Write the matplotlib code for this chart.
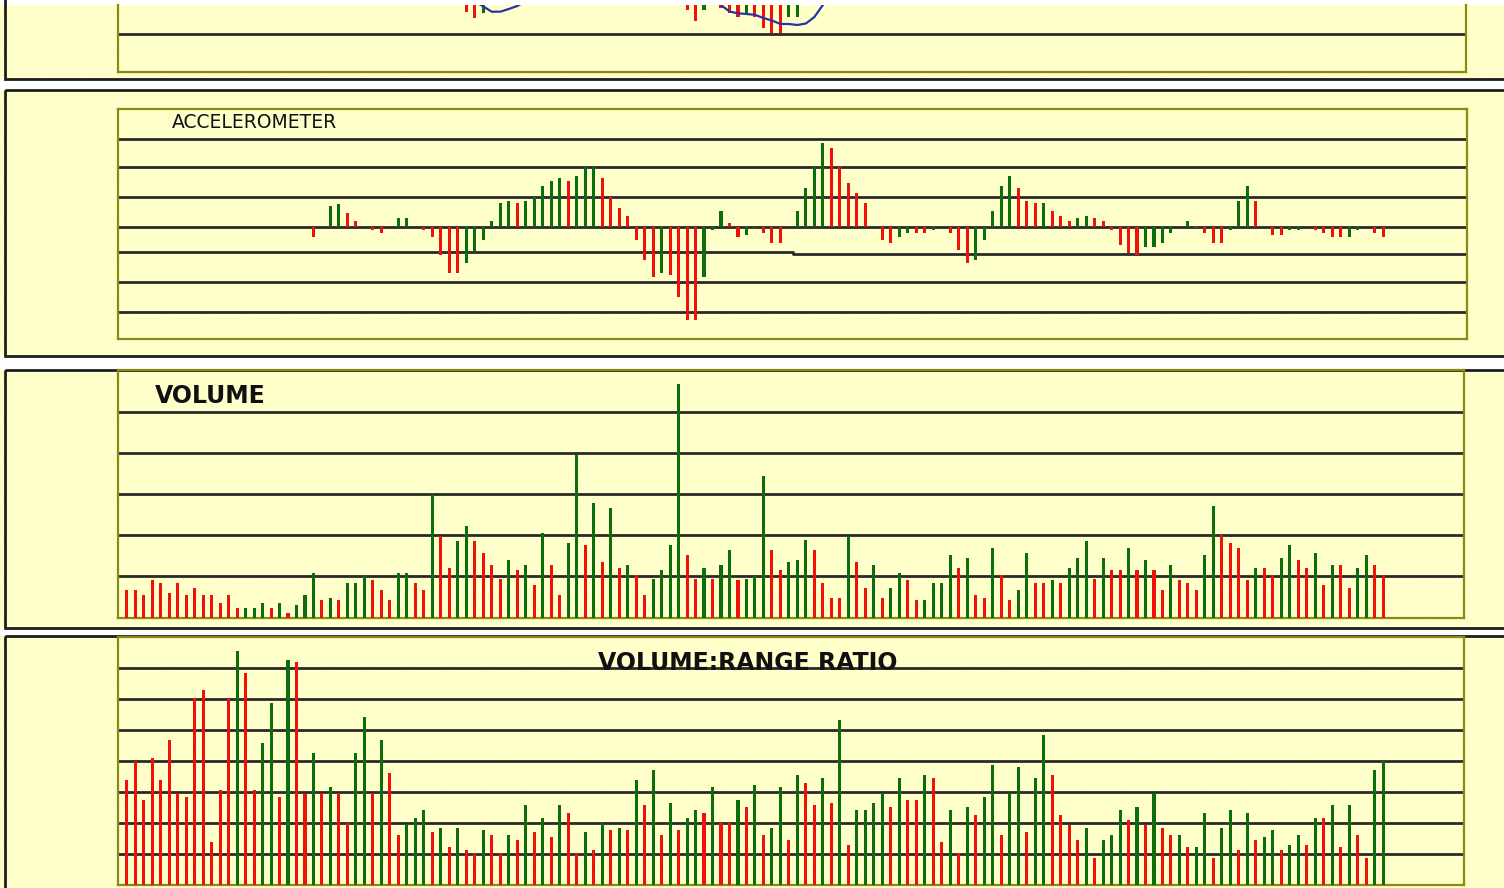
#!/usr/bin/env python3
"""
Chart panels: price strip (cut off), accelerometer, volume and
volume:range ratio histograms on a pale yellow page.
"""
import numpy as np
import matplotlib
matplotlib.use("Agg")
import matplotlib.pyplot as plt
from matplotlib.patches import Rectangle

W, H = 1504, 888
X0, DX = 126.7, 8.49          # pixel x of bar 0 and bar spacing

YEL = "#ffffcc"
RED = "#f01208"
GRN = "#0b6e0b"
GRID = "#2a2a2a"
EDGE = "#8a8a12"
COLS = {"r": RED, "g": GRN}

# ---- top strip (price bars hanging from the cut-off top), depth below top
TOP_IDX = [40, 41, 42, 66, 67, 68, 70, 71, 72, 73, 74, 75, 76, 77, 78, 79]
TOP_LOW = [7, 13, 8, 5, 15.7, 5, 3, 8, 11.7, 8.3, 11.7, 23, 28, 28, 11.7, 11.7]
TOP_COL = "rrgrrgrrrgrrrrgg"
MA1_IDX = [41, 42, 43, 44, 45, 46, 47]
MA1 = [-4, 1.5, 6.7, 6.7, 4, 1, -4]
MA2_IDX = list(range(69, 84))
MA2 = [-4, 0, 6.5, 8.3, 9, 9.8, 13, 15.5, 19, 19, 20, 18.5, 12, 0, -8]
TOP_GRID = [29.5]

# ---- accelerometer
ACC_IDX = [22, 24, 25, 26, 27, 29, 30, 32, 33, 35, 36, 37, 38, 39, 40, 41, 42,
           43, 44, 45, 46, 47, 48, 49, 50, 51, 52, 53, 54, 55, 56, 57, 58, 59,
           60, 61, 62, 63, 64, 65, 66, 67, 68, 69, 70, 71, 72, 73, 74, 75, 76,
           77, 79, 80, 81, 82, 83, 84, 85, 86, 87, 89, 90, 91, 92, 93, 94, 95,
           97, 98, 99, 100, 101, 102, 103, 104, 105, 106, 107, 108, 109, 110,
           111, 112, 113, 114, 115, 116, 117, 118, 119, 120, 121, 122, 123,
           125, 126, 127, 128, 129, 130, 131, 132, 133, 135, 136, 137, 138,
           140, 141, 142, 143, 144, 145, 147, 148]
ACC_VAL = [-0.36, 0.69, 0.76, 0.44, 0.20, -0.11, -0.20, 0.28, 0.28, -0.11,
           -0.36, -0.94, -1.53, -1.53, -1.20, -0.83, -0.44,
           0.20, 0.78, 0.87, 0.78, 0.87, 1.00, 1.36, 1.53, 1.61, 1.53, 1.69,
           2.00, 2.00, 1.61, 1.00, 0.61, 0.36,
           -0.44, -1.11, -1.69, -1.53, -1.61, -2.36, -3.11, -3.11, -1.69,
           -0.11, 0.53, 0.11, -0.36, -0.28, -0.06, -0.20, -0.53,
           -0.53, 0.53, 1.28, 2.00, 2.78, 2.61, 2.00, 1.44, 1.11, 0.78, -0.44,
           -0.53, -0.36, -0.20, -0.20, -0.20, -0.11,
           -0.20, -0.78, -1.20, -1.11, -0.44, 0.53, 1.36, 1.69, 1.28, 0.87,
           0.78, 0.78, 0.53, 0.36,
           0.20, 0.28, 0.36, 0.28, 0.20, -0.11, -0.61, -0.89, -0.94, -0.69,
           -0.69, -0.53, -0.20,
           0.20, -0.03, -0.20, -0.53, -0.53, -0.11, 0.87, 1.36, 0.87, -0.28,
           -0.28, -0.11, -0.11,
           -0.11, -0.20, -0.36, -0.36, -0.36, -0.11, -0.20, -0.36]
ACC_COL = ("rggrrrrggrrrrrggg"
           "gggrgggggrgggrrrr"
           "rrrgrrrrgggrrggrr"
           "rggggrrrrrrrggrrg"
           "rrrgggggrrrgrr"
           "rggrrrrrrgggg"
           "grrrrgggrrrgg"
           "rrrrggrr")
ACC_GRID = [2.91, 2.0, 1.0, 0.0, -1.83, -2.83]
ACC_STEP_X = 78.5             # lower band line steps down here
ACC_STEP_Y = (-0.83, -0.91)

# ---- volume
VOL = [0.67, 0.67, 0.55, 0.91, 0.85, 0.61, 0.85, 0.55, 0.73, 0.55,
       0.55, 0.36, 0.55, 0.24, 0.24, 0.24, 0.36, 0.24, 0.36, 0.12,
       0.31, 0.55, 1.09, 0.43, 0.48, 0.43, 0.85, 0.85, 1.03, 0.91,
       0.67, 0.43, 1.09, 1.09, 0.85, 0.67, 3.00, 1.99, 1.21, 1.86,
       2.23, 1.86, 1.57, 1.28, 0.95, 1.40, 1.15, 1.28, 0.79, 2.06,
       1.28, 0.55, 1.82, 3.96, 1.76, 2.78, 1.34, 2.66, 1.21, 1.28,
       1.03, 0.55, 0.95, 1.15, 1.76, 5.68, 1.52, 0.95, 1.21, 0.95,
       1.28, 1.64, 0.91, 0.95, 1.01, 3.44, 1.64, 1.15, 1.34, 1.40,
       1.88, 1.64, 0.85, 0.48, 0.48, 1.99, 1.34, 0.73, 1.28, 0.48,
       0.73, 1.09, 0.91, 0.43, 0.43, 0.85, 0.85, 1.52, 1.21, 1.45,
       0.55, 0.48, 1.69, 1.03, 0.43, 0.67, 1.57, 0.85, 0.85, 0.91,
       0.85, 1.21, 1.45, 1.86, 0.95, 1.45, 1.15, 1.15, 1.69, 1.15,
       1.40, 1.15, 0.67, 1.28, 0.91, 0.85, 0.67, 1.52, 2.71, 2.00,
       1.82, 1.69, 0.91, 1.21, 1.21, 1.03, 1.45, 1.76, 1.40, 1.21,
       1.57, 0.79, 1.28, 1.28, 0.73, 1.21, 1.52, 1.28, 1.03]
VOL_COL = ("rrrrrrrrrr" "rrrrgggrgr" "gggrgrgggr" "rrggrrgrrg"
           "grrrrgrgrg" "rrggrgrgrg" "rrggggrrgr" "ggrgggrrgg"
           "grrrrgrrgr" "ggrrggggrg" "rrgrrggrrg" "rgggrgrrgr"
           "grrgrrrggr" "rrrgrrggrr" "grgrrggrr")
VOL_GRID = [1, 2, 3, 4, 5]

# ---- volume:range ratio
VRR = [3.39, 4.02, 2.75, 4.11, 3.39, 4.68, 2.98, 2.83, 6.05, 6.30,
       1.38, 3.07, 6.00, 7.57, 6.86, 3.07, 4.60, 5.89, 2.83, 7.27,
       7.19, 2.94, 4.27, 2.98, 3.16, 2.98, 2.01, 4.27, 5.42, 2.98,
       4.68, 3.63, 1.61, 1.97, 2.17, 2.42, 1.70, 1.85, 1.22, 1.85,
       1.13, 1.04, 1.78, 1.61, 1.04, 1.61, 1.45, 2.58, 1.70, 2.17,
       1.54, 2.58, 2.34, 1.04, 1.70, 1.13, 1.99, 1.78, 1.85, 1.78,
       3.39, 2.58, 3.71, 1.61, 2.66, 1.78, 2.17, 2.42, 2.34, 3.16,
       2.01, 2.01, 2.75, 2.51, 3.23, 1.61, 1.85, 3.16, 1.45, 3.55,
       3.30, 2.58, 3.47, 2.66, 5.33, 1.29, 2.42, 2.42, 2.66, 2.96,
       2.51, 3.47, 2.75, 2.75, 3.55, 3.47, 1.38, 2.42, 1.04, 2.51,
       2.26, 2.83, 3.88, 1.61, 2.96, 3.80, 1.70, 3.47, 4.85, 3.55,
       2.26, 1.94, 1.45, 1.85, 0.88, 1.45, 1.61, 2.42, 2.10, 2.51,
       1.94, 2.96, 1.85, 1.61, 1.61, 1.22, 1.22, 2.34, 0.88, 1.85,
       2.42, 1.13, 2.34, 1.45, 1.54, 1.78, 1.13, 1.29, 1.61, 1.29,
       2.17, 2.17, 2.58, 1.22, 2.58, 1.61, 0.88, 3.71, 4.02]
VRR_COL = ("rrrrrrrrrr" "rrrgrrggrg" "rrgrgrrggr" "grrgggrgrg"
           "rrgrrgrgrg" "rgrrgrgrgr" "grgrgrggrg" "rrgrgrggrg"
           "rrgrgrgggg" "rgrrgrrgrg" "rggrggrggr" "rrrgrgggrg"
           "rgrrgrggrg" "grgrggrggr" "grgrgrrgg")
VRR_GRID = [1, 2, 3, 4, 5, 6, 7]

# outer frames (pixel rows) and inner plot boxes (x0, y0, x1, y1)
BANDS = [(5, 79), (90, 356), (370, 628), (636, 900)]
BOX_TOP = (118, 5, 1466, 72)
BOX_ACC = (118, 109, 1467, 339)
BOX_VOL = (118, 370, 1464, 617.7)
BOX_VRR = (118, 637, 1464, 885)
BW = 0.36


def to_idx(px):
    return (px - X0) / DX


def inner_axes(fig, box, hide_top=False):
    x0, y0, x1, y1 = box
    ax = fig.add_axes([x0 / W, 1 - y1 / H, (x1 - x0) / W, (y1 - y0) / H])
    ax.set_facecolor("none")
    ax.set_xlim(to_idx(x0), to_idx(x1))
    ax.set_xticks([])
    ax.set_yticks([])
    for s in ax.spines.values():
        s.set_color(EDGE)
        s.set_linewidth(1.6)
    if hide_top:
        ax.spines["top"].set_visible(False)
    return ax


def gridlines(ax, levels):
    for v in levels:
        ax.axhline(v, color=GRID, lw=2.0, zorder=2)


def main():
    fig = plt.figure(figsize=(W / 100, H / 100), dpi=100)
    fig.patch.set_facecolor("white")

    bg = fig.add_axes([0, 0, 1, 1])
    bg.set_xlim(0, W)
    bg.set_ylim(H, 0)
    bg.axis("off")
    for t, b in BANDS:
        bg.add_patch(Rectangle((0, t), W, b - t, fc=YEL, ec="none", zorder=0))
        ft = t if t > 10 else -20
        bg.add_patch(Rectangle((5, ft), W + 60, b - ft, fc="none",
                               ec="#1e1e1e", lw=2.0, zorder=2))
        # faint dotted page texture
        ys = np.arange(t + 8, b - 4, 20)
        for k, yy in enumerate(ys):
            xs = np.arange(3 + 5 * (k % 2), W, 10)
            bg.scatter(xs, np.full_like(xs, yy, dtype=float), s=1.2,
                       c="#f3f08e", linewidths=0, zorder=1)

    # top strip
    ax = inner_axes(fig, BOX_TOP, hide_top=True)
    ax.set_ylim(67, 0)
    gridlines(ax, TOP_GRID)
    ax.bar(TOP_IDX, TOP_LOW, width=BW, color=[COLS[c] for c in TOP_COL],
           linewidth=0, zorder=3)
    ax.plot(MA1_IDX, MA1, color="#2536a8", lw=1.6, zorder=4)
    ax.plot(MA2_IDX, MA2, color="#2536a8", lw=1.6, zorder=4)

    # accelerometer
    ax = inner_axes(fig, BOX_ACC)
    ax.set_ylim((226.7 - 339) / 30, (226.7 - 109) / 30)
    gridlines(ax, ACC_GRID)
    xl, xr = ax.get_xlim()
    ax.plot([xl, ACC_STEP_X, ACC_STEP_X, xr],
            [ACC_STEP_Y[0], ACC_STEP_Y[0], ACC_STEP_Y[1], ACC_STEP_Y[1]],
            color=GRID, lw=2.0, zorder=2)
    ax.bar(ACC_IDX, ACC_VAL, width=BW, color=[COLS[c] for c in ACC_COL],
           linewidth=0, zorder=3)

    # volume
    ax = inner_axes(fig, BOX_VOL)
    ax.set_ylim(0, 6.01)
    gridlines(ax, VOL_GRID)
    ax.bar(np.arange(len(VOL)), VOL, width=BW,
           color=[COLS[c] for c in VOL_COL], linewidth=0, zorder=3)

    # volume:range ratio
    ax = inner_axes(fig, BOX_VRR)
    ax.set_ylim(0, 8.01)
    gridlines(ax, VRR_GRID)
    ax.bar(np.arange(len(VRR)), VRR, width=BW,
           color=[COLS[c] for c in VRR_COL], linewidth=0, zorder=3)

    fig.text(172 / W, 1 - 123 / H, "ACCELEROMETER", fontsize=13.5,
             ha="left", va="center", color="#111")
    fig.text(155 / W, 1 - 396 / H, "VOLUME", fontsize=17, fontweight="bold",
             ha="left", va="center", color="#111")
    fig.text(748 / W, 1 - 662.5 / H, "VOLUME:RANGE RATIO", fontsize=17,
             fontweight="bold", ha="center", va="center", color="#111")

    fig.savefig("out.png", dpi=100, facecolor=fig.get_facecolor())


if __name__ == "__main__":
    main()
